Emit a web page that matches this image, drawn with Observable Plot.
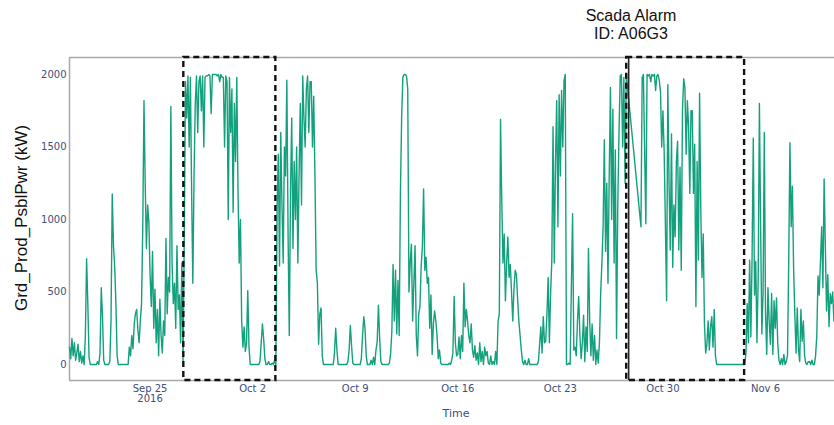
<!DOCTYPE html>
<html>
<head>
<meta charset="utf-8">
<script src="https://cdn.jsdelivr.net/npm/d3@7"></script>
<script src="https://cdn.jsdelivr.net/npm/@observablehq/plot@0.6"></script>
<style>
  html, body { margin: 0; padding: 0; background: #fff; }
  #wrap { position: relative; width: 834px; height: 425px; overflow: hidden; }
  #chart { position: absolute; left: 0; top: 0; }
  .title { position: absolute; left: 531px; width: 200px; top: 7px; text-align: center;
           font-family: "Liberation Sans", Arial, sans-serif; font-size: 16px; line-height: 18px; color: #111; }
  .ylab { position: absolute; left: 22px; top: 218px; transform: translate(-50%, -50%) rotate(-90deg);
          white-space: nowrap; font-family: "Liberation Sans", Arial, sans-serif; font-size: 17px; color: #111; }
  .xlab { position: absolute; left: 456px; top: 413px; transform: translate(-50%, -50%);
          font-family: "DejaVu Sans", Verdana, sans-serif; font-size: 11px; color: #3d4f7c; }
</style>
</head>
<body>
<div id="wrap">
  <div id="chart"></div>
  <div class="title">Scada Alarm<br>ID: A06G3</div>
  <div class="ylab">Grd_Prod_PsblPwr (kW)</div>
  <div class="xlab">Time</div>
</div>
<script>
// ---- data (kW), sampled every 2 hours starting 2016-09-19 12:00 UTC; null = no data (gap) ----
const seriesStart = "2016-09-19T12:00:00Z";
const stepHours = 2;
const power = [
  /* Sep 19 (12h-22h) */ 120, 40, 180, 60, 150, 30,
  /* Sep 20 */ 80, 140, 20, 90, 10, 60, 0, 200, 730, 420, 50, 0,
  /* Sep 21 */ 0, 0, 0, 0, 0, 20, 0, 80, 530, 340, 30, 0,
  /* Sep 22 */ 0, 0, 0, 20, 300, 1177, 820, 680, 420, 60, 0, 0,
  /* Sep 23 */ 0, 0, 0, 0, 0, 0, 0, 120, 60, 200, 110, 280,
  /* Sep 24 */ 350, 380, 240, 150, 300, 420, 950, 1820, 1250, 800, 1100, 980,
  /* Sep 25 */ 620, 400, 780, 250, 520, 150, 380, 60, 450, 200, 80, 300,
  /* Sep 26 */ 200, 870, 350, 600, 500, 1780, 700, 420, 560, 250, 820, 380,
  /* Sep 27 */ 480, 150, 700, 20, 900, 1950, 1700, 1990, 1500, 1980, 1200, 560,
  /* Sep 28 */ 1300, 1800, 1990, 1600, 1950, 1990, 1750, 1990, 1500, 1980, 1990, 1990,
  /* Sep 29 */ 2000, 1990, 1730, 2000, 2000, 2000, 2000, 1990, 2000, 1950, 2000, 1980,
  /* Sep 30 */ 1980, 1500, 1990, 1950, 1000, 1980, 1600, 1900, 1050, 1800, 1400, 1980,
  /* Oct 1 */ 1200, 700, 1000, 300, 120, 260, 90, 150, 510, 120, 0, 0,
  /* Oct 2 */ 0, 0, 0, 0, 0, 0, 20, 150, 280, 180, 40, 0,
  /* Oct 3 */ 0, 20, 0, 0, 10, 0, 30, 0, 1080, 1450, 680, 1600,
  /* Oct 4 */ 1100, 700, 1500, 1300, 1960, 900, 200, 1200, 1700, 800, 1400, 1000,
  /* Oct 5 */ 1500, 700, 1300, 1800, 1100, 1990, 1700, 1500, 1900, 1990, 1600, 1950,
  /* Oct 6 */ 1950, 1500, 1850, 1300, 650, 560, 140, 350, 390, 60, 0, 0,
  /* Oct 7 */ 0, 0, 0, 0, 0, 0, 0, 80, 250, 100, 0, 0,
  /* Oct 8 */ 0, 0, 0, 0, 0, 0, 20, 100, 270, 130, 10, 0,
  /* Oct 9 */ 0, 0, 0, 0, 0, 40, 200, 330, 250, 60, 0, 0,
  /* Oct 10 */ 0, 30, 0, 50, 0, 100, 160, 410, 180, 20, 0, 0,
  /* Oct 11 */ 0, 0, 0, 0, 10, 80, 230, 690, 300, 650, 210, 580,
  /* Oct 12 */ 200, 1177, 1700, 1980, 2000, 2000, 1990, 1900, 500, 700, 830, 300,
  /* Oct 13 */ 560, 820, 200, 60, 350, 400, 680, 820, 1210, 650, 740, 560,
  /* Oct 14 */ 600, 250, 480, 70, 280, 370, 300, 200, 40, 100, 10, 0,
  /* Oct 15 */ 0, 0, 0, 0, 0, 10, 0, 30, 80, 470, 150, 60,
  /* Oct 16 */ 70, 190, 40, 200, 90, 560, 260, 380, 300, 200, 150, 280,
  /* Oct 17 */ 100, 50, 130, 30, 80, 0, 150, 20, 90, 0, 120, 60,
  /* Oct 18 */ 90, 10, 0, 60, 0, 20, 0, 90, 0, 300, 350, 1690,
  /* Oct 19 */ 1130, 700, 900, 440, 700, 880, 600, 690, 500, 300, 520, 650,
  /* Oct 20 */ 620, 450, 300, 200, 100, 20, 0, 30, 0, 0, 40, 0,
  /* Oct 21 */ 0, 0, 0, 0, 0, 0, 20, 140, 260, 80, 330, 150,
  /* Oct 22 */ 160, 350, 600, 150, 490, 720, 1640, 700, 1400, 1820, 950, 1860,
  /* Oct 23 */ 1300, 1890, 1500, 1960, 2000, 0, 0, 10, 0, 530, 1040, 100,
  /* Oct 24 */ 120, 60, 300, 470, 200, 40, 150, 340, 20, 260, 90, 800,
  /* Oct 25 */ 300, 60, 280, 30, 200, 0, 100, 10, 150, 490, 700, 950,
  /* Oct 26 */ 1550, 780, 1250, 560, 1300, 1910, 1000, 1760, 700, 1480, 180, 1100,
  /* Oct 27 */ 1590, 1990, 2000, 1500, 1980, 1250, 2000, null, null, null, null, null,
  /* Oct 28 */ null, null, null, null, null, null, 950, 1980, 2000, 1480, 970, 2000,
  /* Oct 29 */ 1990, 2000, 1950, 2000, 1990, 2000, 1890, 1990, 2000, 1960, 1880, 1500,
  /* Oct 30 */ 1750, 1470, 970, 440, 1930, 1250, 790, 1590, 670, 1100, 880, 1400,
  /* Oct 31 */ 1540, 790, 1360, 650, 1750, 1970, 1910, 1450, 1820, 1640, 1180, 1750,
  /* Nov 1 */ 1750, 1180, 1520, 400, 1400, 720, 1870, 1060, 600, 900, 280, 80,
  /* Nov 2 */ 140, 300, 100, 260, 330, 120, 380, 60, 0, 0, 0, 0,
  /* Nov 3 */ 0, 0, 0, 0, 0, 0, 0, 0, 0, 0, 0, 0,
  /* Nov 4 */ 0, 0, 0, 0, 0, 0, 0, 0, 80, 420, 150, 720,
  /* Nov 5 */ 190, 740, 1560, 480, 710, 150, 600, 1800, 950, 210, 490, 1600,
  /* Nov 6 */ 370, 70, 530, 300, 140, 490, 70, 440, 250, 460, 150, 30,
  /* Nov 7 */ 0, 40, 0, 70, 0, 20, 60, 700, 1530, 950, 1230, 670,
  /* Nov 8 */ 350, 80, 390, 110, 20, 380, 160, 300, 60, 10, 0, 20,
  /* Nov 9 */ 20, 0, 30, 0, 0, 60, 200, 610, 480, 710, 950, 530,
  /* Nov 10 (0h-16h) */ 1280, 810, 370, 620, 260, 490, 420, 500, 300
];

// x axis ticks
const tickDates = ["2016-09-25", "2016-10-02", "2016-10-09", "2016-10-16", "2016-10-23", "2016-10-30", "2016-11-06"];
const tickLabels = ["Sep 25\n2016", "Oct 2", "Oct 9", "Oct 16", "Oct 23", "Oct 30", "Nov 6"];
const yTicks = [0, 500, 1000, 1500, 2000];

// alarm windows and alarm time
const alarmStarts = ["2016-09-27T07:15:00Z", "2016-10-27T12:40:00Z"];
const alarmEnds   = ["2016-10-03T14:00:00Z", "2016-11-04T13:45:00Z"];
const alarmTime = ["2016-10-27T15:50:00Z"];

// axis extents
const xDomain = ["2016-09-19T12:00:00Z", "2016-11-10T17:00:00Z"].map(s => new Date(s));
const yDomain = [-110, 2117];

// ---- build tables ----
const t0 = new Date(seriesStart).getTime();
const rows = power
  .map((v, i) => ({time: new Date(t0 + i * stepHours * 3600e3), kw: v}))
  .filter(d => d.kw != null);
const boxes = alarmStarts.map((s, i) => ({start: new Date(s), end: new Date(alarmEnds[i])}));
const labelByTime = new Map(tickDates.map((d, i) => [+new Date(d + "T00:00:00Z"), tickLabels[i]]));

const axisColor = "#3d4f7c";
const frameColor = "#a8a8a8";

const chart = Plot.plot({
  width: 834,
  height: 425,
  marginLeft: 69,
  marginRight: 0,
  marginTop: 57,
  marginBottom: 45,
  style: {fontFamily: "'DejaVu Sans', Verdana, sans-serif", background: "#fff", overflow: "visible"},
  x: {type: "utc", domain: xDomain},
  y: {domain: yDomain},
  marks: [
    Plot.ruleY([yDomain[0]], {stroke: frameColor, strokeWidth: 1.5}),
    Plot.ruleY([yDomain[1]], {stroke: frameColor, strokeWidth: 1.5}),
    Plot.ruleX([xDomain[0]], {stroke: frameColor, strokeWidth: 1.5}),
    Plot.line(rows, {x: "time", y: "kw", stroke: "#13a07c", strokeWidth: 1.4, strokeLinejoin: "round"}),
    Plot.ruleX(alarmTime.map(s => new Date(s)), {stroke: "#222", strokeWidth: 1.6}),
    Plot.rect(boxes, {x1: "start", x2: "end", y1: yDomain[0], y2: yDomain[1],
      fill: "none", stroke: "#111", strokeWidth: 2.4, strokeDasharray: "6,4"}),
    Plot.axisX({ticks: tickDates.map(d => new Date(d + "T00:00:00Z")),
      tickFormat: d => labelByTime.get(+d), tickSize: 0, tickPadding: 4,
      fontSize: 10, color: axisColor, label: null}),
    Plot.axisY({ticks: yTicks, tickFormat: d => String(d), tickSize: 0, tickPadding: 3,
      fontSize: 10, color: axisColor, label: null})
  ]
});
document.getElementById("chart").appendChild(chart);
</script>
</body>
</html>
